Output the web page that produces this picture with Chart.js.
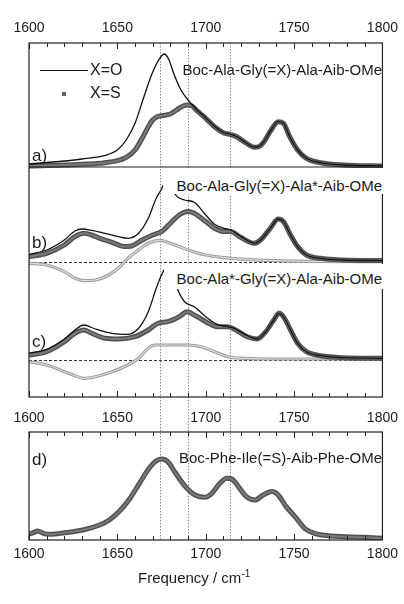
<!DOCTYPE html>
<html><head><meta charset="utf-8">
<script src="https://cdn.jsdelivr.net/npm/chart.js@4"></script>
<style>
html,body{margin:0;padding:0;background:#fff;}
#wrap{position:relative;width:404px;height:604px;overflow:hidden;font-family:"Liberation Sans",Arial,sans-serif;color:#1a1a1a;}
canvas{position:absolute;left:0;}
.t{position:absolute;white-space:nowrap;font-size:15px;line-height:1;}
.box{position:absolute;background:#fff;box-sizing:border-box;text-align:right;white-space:nowrap;font-size:15px;line-height:1;padding-right:2px;}
</style></head><body>
<div id="wrap">
<canvas id="c1" width="404" height="400" style="top:0"></canvas>
<canvas id="c2" width="404" height="204" style="top:400px"></canvas>

<div style="position:absolute;left:40px;top:69.5px;width:48px;height:1.3px;background:#111"></div>
<div style="position:absolute;left:62px;top:92px;width:4px;height:4px;background:#666"></div>
<div class="t" style="left:90px;top:62px;font-size:16px">X=O</div>
<div class="t" style="left:90px;top:85px;font-size:16px">X=S</div>

<div class="t" style="left:32px;top:146.5px;font-size:17px">a)</div>
<div class="t" style="left:32px;top:233.5px;font-size:17px">b)</div>
<div class="t" style="left:32px;top:332.5px;font-size:17px">c)</div>
<div class="t" style="left:32px;top:450.5px;font-size:17px">d)</div>

<div class="t" style="right:22px;top:61.5px">Boc-Ala-Gly(=X)-Ala-Aib-OMe</div>
<div class="box" style="left:163px;top:168px;width:221px;height:26px;padding-top:10px">Boc-Ala-Gly(=X)-Ala*-Aib-OMe</div>
<div class="box" style="left:164px;top:264px;width:220px;height:25px;padding-top:6.5px">Boc-Ala*-Gly(=X)-Ala-Aib-OMe</div>
<div class="t" style="right:22px;top:449.5px">Boc-Phe-Ile(=S)-Aib-Phe-OMe</div>

<div class="t" style="left:138px;top:569px">Frequency / cm<sup style="font-size:10px;vertical-align:6px">-1</sup></div>
</div>
<script>
const FONT = '"Liberation Sans", Arial, sans-serif';
const FREQ_MIN = 1600, FREQ_MAX = 1800;
const tickLabels = [1600, 1650, 1700, 1750, 1800];
const markerFreqs = [1674, 1690, 1713.5];

// Panel a : Boc-Ala-Gly(=X)-Ala-Aib-OMe
const aO_f = [1600,1610,1620,1630,1640,1645,1650,1655,1660,1665,1670,1674,1676.5,1679,1682,1686,1690,1695,1700,1705,1710,1713.5,1717.5,1722.5,1727.5,1730,1733,1737,1741,1744,1747.5,1752,1757,1765,1778,1800];
const aO_v = [2,3.5,5,7,9.3,11.7,16,26,42.7,69,94,107.7,112,107,92,76,66,56,48,39.5,33.5,32,29.5,23.5,18.8,19.3,24.3,36,44.3,42.7,29.3,16,7.7,3.3,1,0];
const aS_f = [1600,1620,1640,1650,1655,1660,1665,1667.5,1670,1672.5,1675,1680,1685,1689,1692,1695,1700,1705,1710,1713.5,1717.5,1722.5,1727.5,1730,1733,1737,1741,1744,1747.5,1752,1757,1765,1778,1800];
const aS_v = [0,1,2.7,5.3,8.7,16,31,39.3,46,49.3,50.3,52,57.7,61,60.3,55.3,47.7,39.3,33.3,31.7,29.3,23.3,18.7,19.3,24.3,36,44.3,42.7,29.3,16,7.7,3.3,1,0];

// Panel b : Boc-Ala-Gly(=X)-Ala*-Aib-OMe
const bS_f = [1600,1610,1620,1626,1631,1635.5,1640,1647,1654,1658,1664,1670,1675,1680,1685,1690,1693.5,1700,1705,1710.5,1714,1720,1727.5,1731,1736.5,1741,1744,1748,1752,1757,1765,1778,1800];
const bS_v = [5.7,9,17.3,25.7,29,27.3,24,20,15.7,16.3,22.3,27.3,30.7,39,47.3,50.7,49,40.7,34,30.7,30.7,24.7,19,22.3,34,43.3,40.7,27.3,15.7,7.3,4,2.3,1.7];
const bO_f = [1600,1610,1620,1626,1630,1635.5,1643,1650.5,1656,1662,1667.5,1672,1675,1677,1680,1683,1688,1693.5,1700,1705,1710.5,1714,1720,1727.5,1731,1736.5,1741,1744,1748,1752,1757,1765,1778,1800];
const bO_v = [8,12.3,22.3,31.3,33.3,32,29,25.7,24,29,44,64,73,80,80,67.3,62.3,60,47.3,38,34,32.3,25.7,19,22.3,34,43.3,40.7,27.3,15.7,7.3,4,2.3,1.7];
const bD_f = [1600,1610,1620,1626,1631,1637.5,1645,1650.5,1656,1662,1667.5,1674,1678.5,1685,1690,1700,1710.5,1722,1740,1760,1800];
const bD_v = [-1,-2.7,-9.3,-16,-18.3,-17.7,-12.7,-6,4,12.3,19,22,20,15.7,12.3,7.3,4.7,3,1.7,1,0.7];

// Panel c : Boc-Ala*-Gly(=X)-Ala-Aib-OMe
const cS_f = [1600,1610,1620,1626,1631,1635.5,1643,1650.5,1660,1667.5,1673,1678.5,1685,1689.5,1693.5,1700,1706.5,1712.5,1716,1723.5,1729,1734,1738.5,1741.5,1744,1748,1752,1757,1765,1778,1800];
const cS_v = [5,8.3,18.3,26.7,30,26.7,21.7,21,23.3,30,36.7,38.3,43.3,48.3,45,38.3,33.3,33.3,31,23.3,21,28.3,40,46.7,43.3,30,16.7,8.3,4.3,2.3,1.7];
const cO_f = [1600,1610,1620,1626,1631,1637.5,1647,1656,1662,1667.5,1672,1675,1677.5,1680.5,1684,1688,1693.5,1700,1706.5,1712.5,1716,1723.5,1729,1734,1738.5,1741.5,1744,1748,1752,1757,1765,1778,1800];
const cO_v = [6.7,10.7,21,30,35,31,26.7,25.7,31.7,48.3,71.7,85,92,88,71,58.3,53.3,43.3,35.7,33.3,31.7,24.3,21,28.3,40,46.7,43.3,30,16.7,8.3,4.3,2.3,1.7];
const cD_f = [1600,1610,1620,1626,1631,1637.5,1647,1656,1662,1667.5,1671,1678.5,1690,1697.5,1705,1712.5,1722,1740,1800];
const cD_v = [-1.7,-5,-11.7,-15.7,-18.3,-16.7,-11.7,-5,1.7,11.7,15,15,15,13.3,8.3,3.3,1.7,1,1];

// Panel d : Boc-Phe-Ile(=S)-Aib-Phe-OMe
const dS_f = [1600,1602.5,1605,1608,1612,1621,1630.5,1640,1645.5,1651,1656.5,1662.5,1668,1671.5,1675,1678.5,1683,1688.5,1694,1699.5,1703.5,1708,1712,1715,1718.5,1723,1728,1732.5,1737.5,1741,1745.5,1750.5,1756,1761.5,1771,1790,1800];
const dS_v = [4.3,5.7,7.3,5,4,5.7,8.3,13.3,18.3,26.7,38.3,55,70,76.7,79.3,76.7,65,51.7,43.3,41,45,55,60,59,51.7,41.7,38.3,43.3,46.7,43.3,31.7,21.7,10,5,2.3,1,0];

// vertical offsets of the stacked spectra (a.u.)
const OFF_A = 231, OFF_B = 134.7, OFF_C = 37, SEP_AB = 230;

function pts(f, v, off){ return f.map((x,i)=>({x:x, y:v[i]+off})); }
function ds(data, color, width){
  return {data, borderColor:color, borderWidth:width, pointRadius:0, fill:false,
          cubicInterpolationMode:'monotone', borderJoinStyle:'round', borderCapStyle:'round'};
}

const framePlugin = {
  id:'frame',
  beforeDatasetsDraw(chart, args, o){
    const {ctx, chartArea:a, scales:{x, y}} = chart;
    ctx.save();
    ctx.strokeStyle = '#8c8c8c'; ctx.lineWidth = 1; ctx.setLineDash([1.5,1.5]);
    const vt = o.vTop === 'area' ? a.top : o.vTop;
    const vb = o.vBottom === 'area' ? a.bottom : o.vBottom;
    markerFreqs.forEach(f=>{
      const px = Math.round(x.getPixelForValue(f)) + 0.5;
      ctx.beginPath(); ctx.moveTo(px, vt); ctx.lineTo(px, vb); ctx.stroke();
    });
    ctx.strokeStyle = '#333'; ctx.setLineDash([3,2]);
    (o.baselines||[]).forEach(v=>{
      const py = Math.round(y.getPixelForValue(v)) + 0.5;
      ctx.beginPath(); ctx.moveTo(a.left, py); ctx.lineTo(a.right, py); ctx.stroke();
    });
    ctx.restore();
  },
  afterDatasetsDraw(chart, args, o){
    const {ctx, chartArea:a, scales:{x, y}} = chart;
    ctx.save();
    ctx.strokeStyle = '#222'; ctx.lineWidth = 1.2; ctx.setLineDash([]);
    ctx.strokeRect(a.left, a.top, a.right - a.left, a.bottom - a.top);
    (o.separators||[]).forEach(v=>{
      const py = y.getPixelForValue(v);
      ctx.beginPath(); ctx.moveTo(a.left, py); ctx.lineTo(a.right, py); ctx.stroke();
    });
    ctx.lineWidth = 1;
    for (let f = FREQ_MIN; f <= FREQ_MAX; f += 10){
      const px = Math.round(x.getPixelForValue(f)) + 0.5;
      const L = (f % 50 === 0) ? 6 : 4;
      ctx.beginPath();
      ctx.moveTo(px, a.top); ctx.lineTo(px, a.top + L);
      ctx.moveTo(px, a.bottom); ctx.lineTo(px, a.bottom - L);
      ctx.stroke();
    }
    ctx.restore();
  }
};

function xAxis(pos, h, pad){
  return {type:'linear', position:pos, min:FREQ_MIN, max:FREQ_MAX,
    afterFit(s){ s.height = h; },
    afterBuildTicks(s){ s.ticks = tickLabels.map(v=>({value:v})); },
    grid:{display:false, drawTicks:false}, border:{display:false},
    ticks:{padding:pad, autoSkip:false, maxRotation:0, color:'#1a1a1a',
           font:{family:FONT, size:14}, callback:v=>String(v)}};
}

new Chart(document.getElementById('c1'), {
  type:'line',
  data:{datasets:[
    ds(pts(aO_f,aO_v,OFF_A), '#111', 1.3),
    ds(pts(bO_f,bO_v,OFF_B), '#111', 1.3),
    ds(pts(cO_f,cO_v,OFF_C), '#111', 1.3),
    ds(pts(aS_f,aS_v,OFF_A), '#7a7a7a', 2),
    ds(pts(bS_f,bS_v,OFF_B), '#7a7a7a', 2),
    ds(pts(cS_f,cS_v,OFF_C), '#7a7a7a', 2),
    ds(pts(aS_f,aS_v,OFF_A), '#505050', 5),
    ds(pts(bS_f,bS_v,OFF_B), '#505050', 5),
    ds(pts(cS_f,cS_v,OFF_C), '#505050', 5),
    ds(pts(bD_f,bD_v,OFF_B), '#dcdcdc', 1.2),
    ds(pts(cD_f,cD_v,OFF_C), '#dcdcdc', 1.2),
    ds(pts(bD_f,bD_v,OFF_B), '#9a9a9a', 3.2),
    ds(pts(cD_f,cD_v,OFF_C), '#9a9a9a', 3.2)
  ]},
  options:{
    responsive:false, animation:false, devicePixelRatio:1,
    layout:{padding:{left:29, right:19, top:0, bottom:3}},
    plugins:{legend:{display:false}, tooltip:{enabled:false},
      frame:{vTop:'area', vBottom:400, baselines:[OFF_B, OFF_C], separators:[SEP_AB]}},
    scales:{ x:xAxis('top', 43, 6), y:{display:false, min:0, max:354} }
  },
  plugins:[framePlugin]
});

new Chart(document.getElementById('c2'), {
  type:'line',
  data:{datasets:[
    ds(pts(dS_f,dS_v,0), '#7a7a7a', 2),
    ds(pts(dS_f,dS_v,0), '#505050', 5)
  ]},
  options:{
    responsive:false, animation:false, devicePixelRatio:1,
    layout:{padding:{left:29, right:19, top:0, bottom:0}},
    plugins:{legend:{display:false}, tooltip:{enabled:false},
      frame:{vTop:0, vBottom:'area'}},
    scales:{ x:xAxis('top', 32, 5), x2:xAxis('bottom', 64, 6), y:{display:false, min:-1.7, max:106.3} }
  },
  plugins:[framePlugin]
});
</script>
</body></html>
